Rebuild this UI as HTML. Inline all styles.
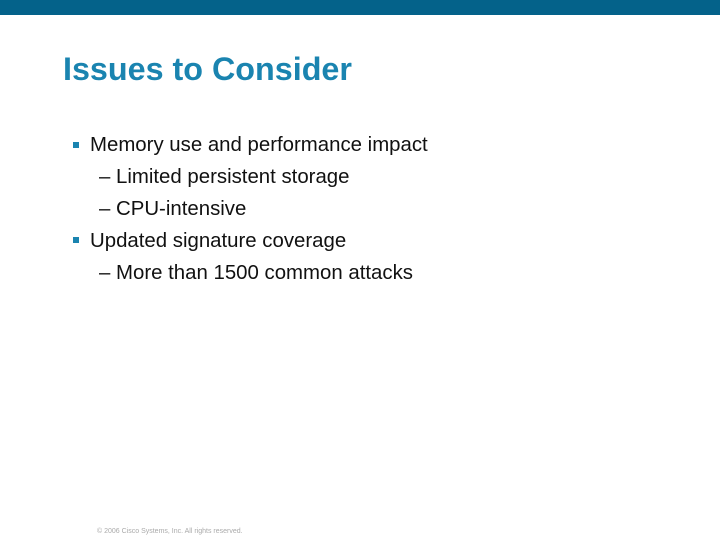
<!DOCTYPE html>
<html><head><style>
body{margin:0;width:720px;height:540px;background:#fff;position:relative;overflow:hidden;font-family:"Liberation Sans",Arial,sans-serif}
.bar{position:absolute;left:0;top:0;width:720px;height:15px;background:#04628a}
.t{position:absolute;left:63px;top:51px;font-size:32.3px;font-weight:bold;color:#1a84b0;white-space:nowrap}
.l{position:absolute;font-size:20.4px;color:#111;white-space:nowrap}
.sq{position:absolute;width:6px;height:6px;background:#1a84b0}
.f{position:absolute;left:97px;top:528px;font-size:7px;color:#aaa;white-space:nowrap}
</style></head><body>
<div class="bar"></div>
<div class="t">Issues to Consider</div>
<div class="sq" style="left:73px;top:142px"></div>
<div class="l" style="left:90px;top:134px">Memory use and performance impact</div>
<div class="l" style="left:99px;top:166px">– Limited persistent storage</div>
<div class="l" style="left:99px;top:198px">– CPU-intensive</div>
<div class="sq" style="left:73px;top:237px"></div>
<div class="l" style="left:90px;top:230px">Updated signature coverage</div>
<div class="l" style="left:99px;top:262px">– More than 1500 common attacks</div>
<div class="f">© 2006 Cisco Systems, Inc. All rights reserved.</div>
</body></html>
